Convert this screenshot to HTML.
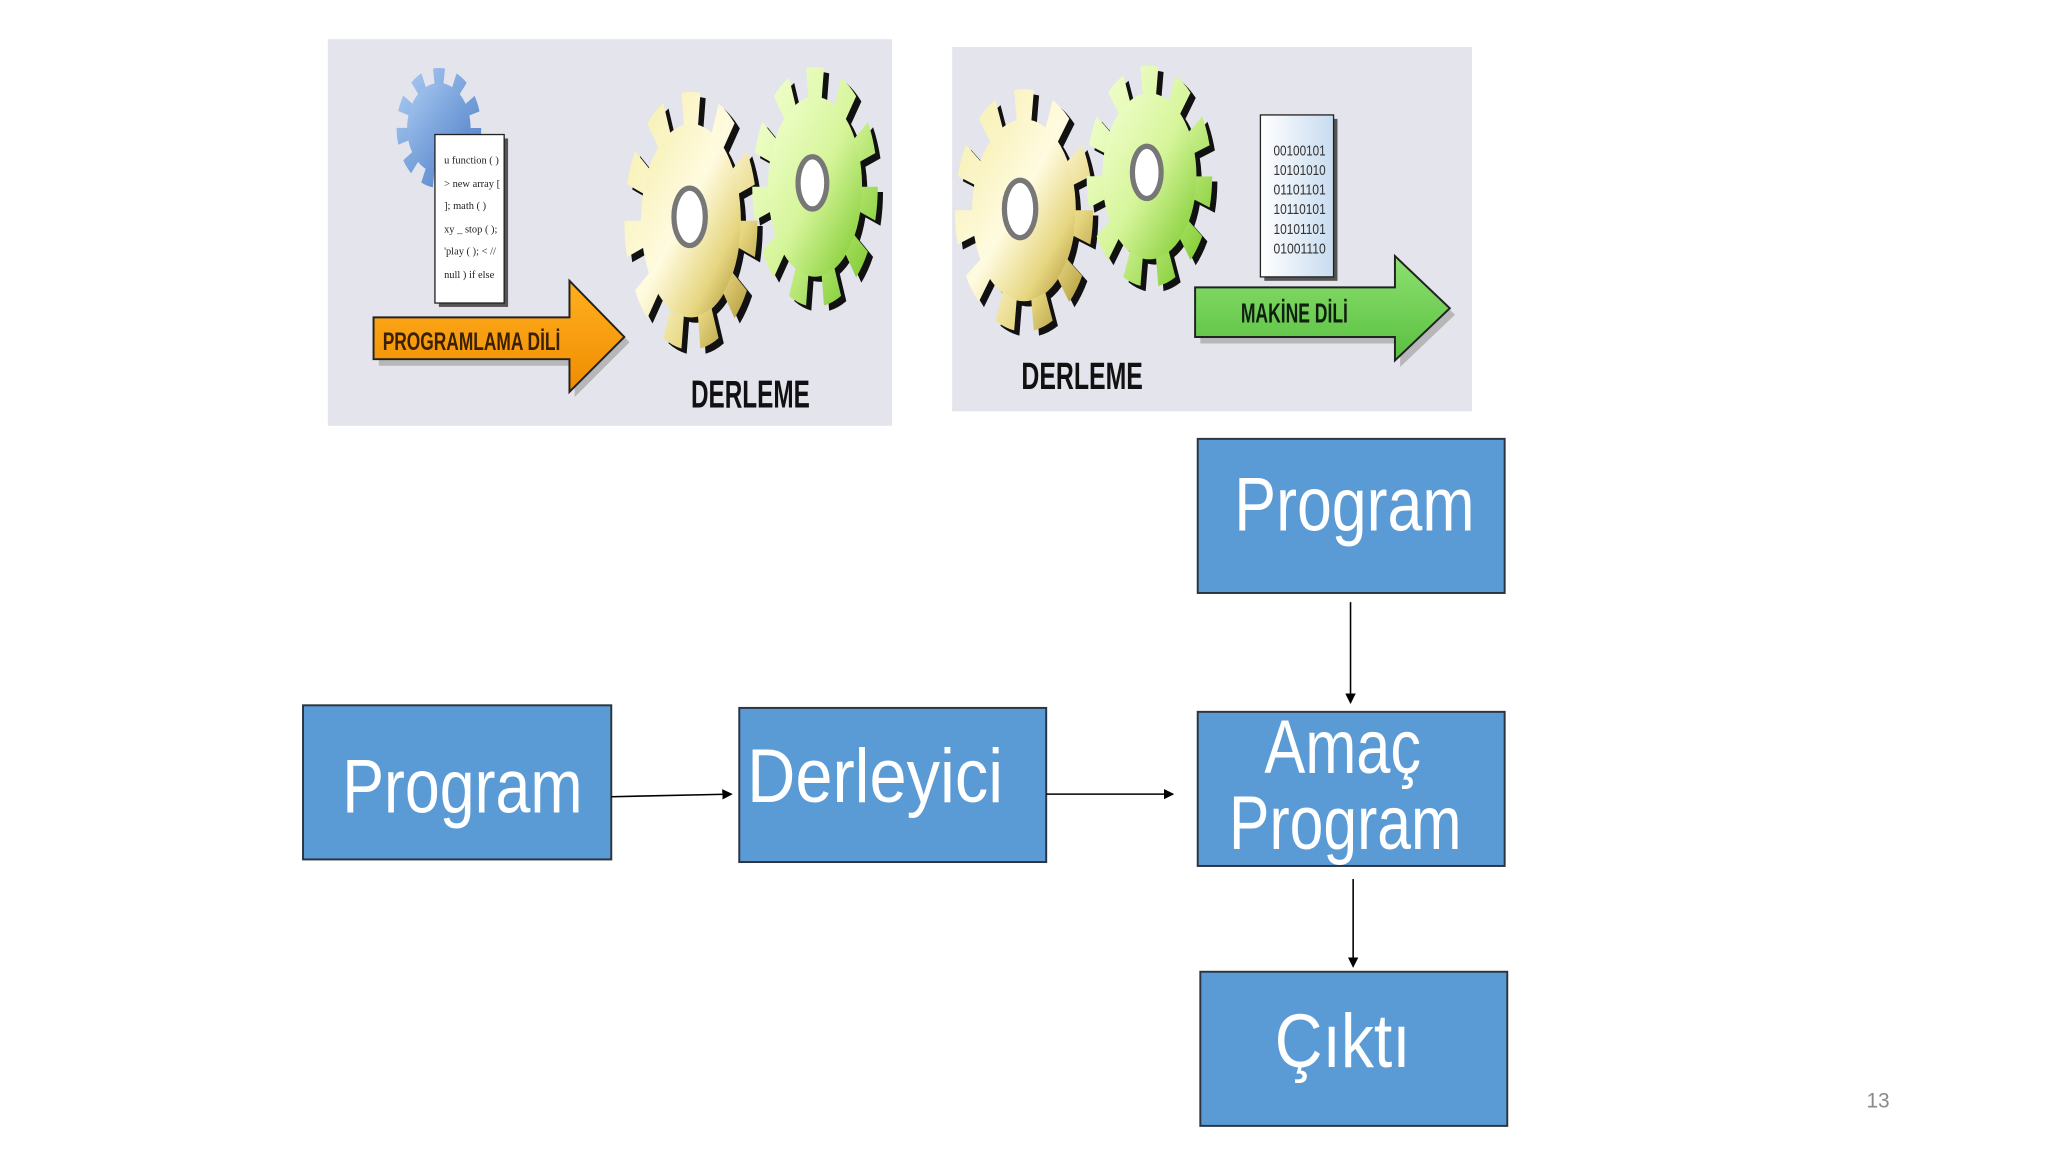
<!DOCTYPE html>
<html><head><meta charset="utf-8"><style>
html,body{margin:0;padding:0;background:#fff;width:2048px;height:1152px;overflow:hidden}
svg{display:block}
</style></head><body>
<svg width="2048" height="1152" viewBox="0 0 1568 882" xmlns="http://www.w3.org/2000/svg">
<defs>
<linearGradient id="yg" x1="0" y1="0" x2="1" y2="1"><stop offset="0" stop-color="#f6efb0"/><stop offset=".45" stop-color="#fffbe0"/><stop offset=".75" stop-color="#e6d680"/><stop offset="1" stop-color="#a88f30"/></linearGradient>
<linearGradient id="gg" x1="0" y1="0" x2="1" y2="1"><stop offset="0" stop-color="#f2ffd0"/><stop offset=".5" stop-color="#d6f59a"/><stop offset="1" stop-color="#78c828"/></linearGradient>
<linearGradient id="bg" x1="0" y1="0" x2="1" y2="1"><stop offset="0" stop-color="#a8c8f0"/><stop offset="1" stop-color="#4d7fc8"/></linearGradient>
<linearGradient id="og" x1="0" y1="0" x2="0" y2="1"><stop offset="0" stop-color="#ffb020"/><stop offset="1" stop-color="#f08c00"/></linearGradient>
<linearGradient id="grn" x1="0" y1="0" x2="0" y2="1"><stop offset="0" stop-color="#8ee070"/><stop offset="1" stop-color="#58c040"/></linearGradient>
<linearGradient id="dg" x1="0" y1="0" x2="1" y2="0"><stop offset="0" stop-color="#fff"/><stop offset="1" stop-color="#c8dcf0"/></linearGradient>
<g id="gear">
 <circle r="40"/>
 <circle r="47" fill="none" stroke-width="14" stroke-dasharray="13.42 13.42"/>
</g>
<marker id="ah" markerWidth="8" markerHeight="8" refX="7" refY="4" orient="auto" markerUnits="userSpaceOnUse"><path d="M0,0 L8,4 L0,8 z" fill="#000"/></marker>
</defs>

<!-- Panel 1 -->
<rect x="251" y="30" width="432" height="296" fill="#e4e4ec"/>
<!-- blue gear -->
<g transform="translate(336,98) scale(0.6,0.85)" fill="url(#bg)" stroke="url(#bg)"><use href="#gear"/></g>
<!-- doc -->
<rect x="336" y="106" width="53" height="129" fill="#555"/>
<rect x="333" y="103" width="53" height="129" fill="#fff" stroke="#222" stroke-width="1"/>
<g font-family="Liberation Serif, serif" font-size="8" fill="#222">
<text x="340" y="125">u function ( )</text><text x="340" y="143">&gt; new array [</text><text x="340" y="160">]; math ( )</text><text x="340" y="178">xy _ stop ( );</text><text x="340" y="195">'play ( ); &lt; //</text><text x="340" y="213">null ) if else</text></g>
<!-- orange arrow -->
<path d="M290,248 H440 V219 L482,262 L440,304 V280 H290 Z" fill="#999" opacity=".6"/>
<path d="M286,243 H436 V215 L478,258 L436,300 V275 H286 Z" fill="url(#og)" stroke="#222" stroke-width="1.5"/>
<text x="293" y="268" font-family="Liberation Sans, sans-serif" font-weight="bold" font-size="19" fill="#3a2000" textLength="136" lengthAdjust="spacingAndGlyphs">PROGRAMLAMA DİLİ</text>
<!-- gears -->
<g transform="translate(533,173) scale(0.944,1.83)" fill="#111" stroke="#111"><use href="#gear"/></g>
<g transform="translate(529,169) scale(0.944,1.83)" fill="url(#yg)" stroke="url(#yg)"><use href="#gear"/></g>
<ellipse cx="528" cy="166" rx="12" ry="22" fill="#fff" stroke="#777" stroke-width="4"/>
<g transform="translate(628,147) scale(0.89,1.7)" fill="#111" stroke="#111"><use href="#gear"/></g>
<g transform="translate(624,143) scale(0.89,1.7)" fill="url(#gg)" stroke="url(#gg)"><use href="#gear"/></g>
<ellipse cx="622" cy="140" rx="11" ry="20" fill="#fff" stroke="#777" stroke-width="4"/>
<text x="529" y="312" font-family="Liberation Sans, sans-serif" font-weight="bold" font-size="30" fill="#111" textLength="91" lengthAdjust="spacingAndGlyphs">DERLEME</text>

<!-- Panel 2 -->
<rect x="729" y="36" width="398" height="279" fill="#e4e4ec"/>
<g transform="translate(788,165) scale(0.98,1.72)" fill="#111" stroke="#111"><use href="#gear"/></g>
<g transform="translate(784,161) scale(0.98,1.72)" fill="url(#yg)" stroke="url(#yg)"><use href="#gear"/></g>
<ellipse cx="781" cy="160" rx="12" ry="22" fill="#fff" stroke="#777" stroke-width="4"/>
<g transform="translate(884,139) scale(0.89,1.57)" fill="#111" stroke="#111"><use href="#gear"/></g>
<g transform="translate(880,135) scale(0.89,1.57)" fill="url(#gg)" stroke="url(#gg)"><use href="#gear"/></g>
<ellipse cx="878" cy="132" rx="11" ry="20" fill="#fff" stroke="#777" stroke-width="4"/>
<!-- binary doc -->
<rect x="968" y="91" width="56" height="124" fill="#555"/>
<rect x="965" y="88" width="56" height="124" fill="url(#dg)" stroke="#222" stroke-width="1"/>
<g font-family="Liberation Sans, sans-serif" font-size="11" fill="#333">
<text x="975" y="119" textLength="40" lengthAdjust="spacingAndGlyphs">00100101</text>
<text x="975" y="134" textLength="40" lengthAdjust="spacingAndGlyphs">10101010</text>
<text x="975" y="149" textLength="40" lengthAdjust="spacingAndGlyphs">01101101</text>
<text x="975" y="164" textLength="40" lengthAdjust="spacingAndGlyphs">10110101</text>
<text x="975" y="179" textLength="40" lengthAdjust="spacingAndGlyphs">10101101</text>
<text x="975" y="194" textLength="40" lengthAdjust="spacingAndGlyphs">01001110</text></g>
<!-- green arrow -->
<path d="M919,225 H1072 V201 L1114,241 L1072,281 V263 H919 Z" fill="#999" opacity=".6"/>
<path d="M915,220 H1068 V196 L1110,236 L1068,276 V258 H915 Z" fill="url(#grn)" stroke="#222" stroke-width="1.5"/>
<text x="950" y="247" font-family="Liberation Sans, sans-serif" font-weight="bold" font-size="21" fill="#102010" textLength="82" lengthAdjust="spacingAndGlyphs">MAKİNE DİLİ</text>
<text x="782" y="298" font-family="Liberation Sans, sans-serif" font-weight="bold" font-size="29" fill="#111" textLength="93" lengthAdjust="spacingAndGlyphs">DERLEME</text>

<!-- boxes -->
<g fill="#5b9bd5" stroke="#2b3440" stroke-width="1.5">
<rect x="232" y="540" width="236" height="118"/>
<rect x="566" y="542" width="235" height="118"/>
<rect x="917" y="336" width="235" height="118"/>
<rect x="917" y="545" width="235" height="118"/>
<rect x="919" y="744" width="235" height="118"/>
</g>
<g font-family="Liberation Sans, sans-serif" font-size="58" fill="#fff">
<text x="262" y="622" textLength="184" lengthAdjust="spacingAndGlyphs">Program</text>
<text x="572" y="614" textLength="196" lengthAdjust="spacingAndGlyphs">Derleyici</text>
<text x="945" y="406" textLength="184" lengthAdjust="spacingAndGlyphs">Program</text>
<text x="968" y="592" textLength="120" lengthAdjust="spacingAndGlyphs">Amaç</text>
<text x="941" y="650" textLength="178" lengthAdjust="spacingAndGlyphs">Program</text>
<text x="976" y="817" textLength="104" lengthAdjust="spacingAndGlyphs">Çıktı</text>
</g>
<!-- connectors -->
<g stroke="#000" stroke-width="1.2" fill="none" marker-end="url(#ah)">
<line x1="468" y1="610" x2="560" y2="608"/>
<line x1="801" y1="608" x2="898" y2="608"/>
<line x1="1034" y1="461" x2="1034" y2="538"/>
<line x1="1036" y1="673" x2="1036" y2="740"/>
</g>
<text x="1429" y="848" font-family="Liberation Sans, sans-serif" font-size="16" fill="#8a8a8a">13</text>
</svg>
</body></html>
